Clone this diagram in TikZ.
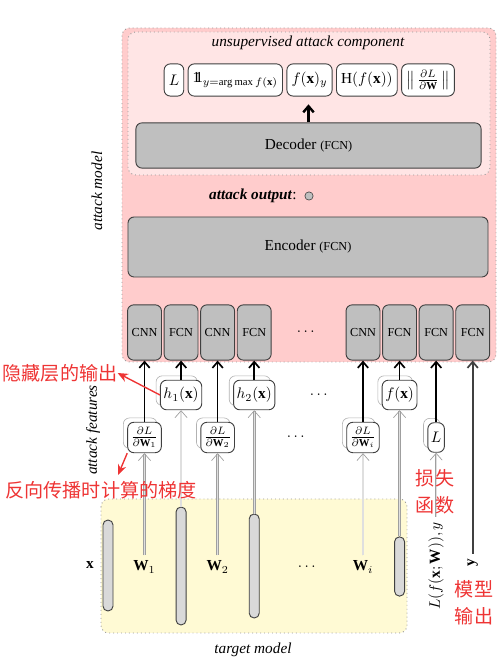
\documentclass[tikz,border=0pt]{standalone}
\usepackage{amsmath}
\usepackage{fontspec}
\setmainfont{Liberation Serif}
\newfontfamily\cjk{Noto Sans CJK SC}
\IfFileExists{dsfont.sty}{\usepackage{dsfont}\newcommand{\indic}{\mathds{1}}}{\newcommand{\indic}{\mathrm{1\!\!1}}}
\usetikzlibrary{arrows.meta,positioning,shadows}
\definecolor{amred}{RGB}{255,204,204}
\definecolor{amlight}{RGB}{255,229,229}
\definecolor{tmyellow}{RGB}{255,250,212}
\definecolor{unitgray}{RGB}{191,191,191}
\definecolor{bargray}{RGB}{217,217,217}
\definecolor{edge}{RGB}{64,64,64}
\definecolor{notered}{RGB}{238,52,52}
\tikzset{
    region/.style={
        draw=gray!80,dotted,semithick,rounded corners=5pt,fill=#1
    },
    unit/.style={
        draw=edge,semithick,rounded corners=4pt,fill=unitgray,
        align=center,inner sep=1pt
    },
    netbox/.style={
        unit,minimum width=7.8mm,minimum height=12.7mm,font=\footnotesize
    },
    term/.style={
        draw=edge,semithick,rounded corners=4pt,fill=white,
        minimum height=7.4mm,inner xsep=3pt
    },
    feat/.style={
        term,minimum height=6.8mm,inner xsep=2pt,
        copy shadow={shadow xshift=-1mm,shadow yshift=1mm,
            draw=gray!60,fill=white,thin}
    },
    layerbar/.style={
        draw=edge,semithick,fill=bargray,rounded corners=1.1mm,
        minimum width=2.3mm,minimum height=#1,inner sep=0pt
    },
    arrow/.style={
        -{Straight Barb[length=1.4mm,width=2.4mm]},line width=1.1pt,draw=black
    },
    grad/.style={
        -{Straight Barb[length=1.6mm,width=2.8mm]},draw=gray!75,
        double=gray!25,double distance=0.8pt,line width=0.45pt
    },
    note/.style={
        font=\cjk\fontsize{12.5}{17.5}\selectfont,text=notered,
        align=center,inner sep=0pt
    },
    notearrow/.style={
        -{Stealth[length=2.4mm,width=2mm]},draw=notered,line width=0.9pt
    }
}

\begin{document}
\begin{tikzpicture}[x=0.23mm,y=0.23mm]
\useasboundingbox (0,0) rectangle (503,666);

% regions
\draw[region=amred] (122,638) rectangle (496,304);
\draw[region=amlight] (128,634) rectangle (490,491);
\draw[region=tmyellow] (101,167) rectangle (407,33);

\node[font=\itshape] (ucomp) at (308,623) {unsupervised attack component};
\node[font=\itshape,rotate=90] (amodel) at (97,475) {attack model};
\node[font=\itshape,rotate=90] (afeat) at (93,236) {attack features};
\node[font=\itshape] (tmodel) at (253,16) {target model};

% unsupervised terms
\node[term] (fxy) at (309.5,586) {$f(\mathbf{x})_y$};
\node[term,left=0.8mm of fxy] (ind) {$\indic_{y=\arg\max f(\mathbf{x})}$};
\node[term,left=0.8mm of ind] (lterm) {$L$};
\node[term,right=0.8mm of fxy] (ent) {$\mathrm{H}(f(\mathbf{x}))$};
\node[term,right=0.8mm of ent] (gnorm) {$\left\|\,\frac{\partial L}{\partial\mathbf{W}}\,\right\|$};

\node[unit,minimum width=79.4mm,minimum height=10.4mm]
(dec) at (308.5,520.5) {Decoder {\footnotesize(FCN)}};
\draw[arrow,line width=1.6pt,shorten >=1.8mm] (dec.north) -- (dec.north |- fxy.south);

\node[anchor=east] (aout) at (302,470) {\textbf{\textit{attack output}}:};
\node[circle,draw=edge,fill=unitgray,inner sep=0pt,minimum size=1.9mm]
(aoutdot) at (309,470) {};

\node[unit,minimum width=82.8mm,minimum height=13.8mm]
(enc) at (308,419) {Encoder {\footnotesize(FCN)}};

% component networks
\node[netbox] (cnnA) at (144.5,333.5) {CNN};
\node[netbox,right=0.4mm of cnnA] (fcnA) {FCN};
\node[netbox,right=0.4mm of fcnA] (cnnB) {CNN};
\node[netbox,right=0.4mm of cnnB] (fcnB) {FCN};
\node (udots) at (307,333.5) {$\cdots$};
\node[netbox] (cnnC) at (363,333.5) {CNN};
\node[netbox,right=0.4mm of cnnC] (fcnC) {FCN};
\node[netbox,right=0.4mm of fcnC] (fcnD) {FCN};
\node[netbox,right=0.4mm of fcnD] (fcnE) {FCN};

% attack features
\node[feat] (hA) at (fcnA |- 0,271) {$h_1(\mathbf{x})$};
\node[feat] (hB) at (fcnB |- 0,271) {$h_2(\mathbf{x})$};
\node (hdots) at (320,271) {$\cdots$};
\node[feat] (fx) at (fcnC |- 0,271) {$f(\mathbf{x})$};
\node[feat] (gA) at (cnnA |- 0,228.5) {$\frac{\partial L}{\partial\mathbf{W}_1}$};
\node[feat] (gB) at (cnnB |- 0,228.5) {$\frac{\partial L}{\partial\mathbf{W}_2}$};
\node (gdots) at (297,229) {$\cdots$};
\node[feat] (gC) at (cnnC |- 0,228.5) {$\frac{\partial L}{\partial\mathbf{W}_i}$};
\node[feat] (loss) at (fcnD |- 0,228.5) {$L$};

% target model
\node[layerbar=20.9mm] (lx) at (108,100.5) {};
\node[layerbar=27.1mm] (lA) at (fcnA |- 0,100) {};
\node[layerbar=23.9mm] (lB) at (fcnB |- 0,100) {};
\node[layerbar=13.6mm] (lC) at (fcnC |- 0,99.5) {};
\node (xin) at (90,101) {$\mathbf{x}$};
\node (wA) at (cnnA |- 0,99) {$\mathbf{W}_1$};
\node (wB) at (cnnB |- 0,99) {$\mathbf{W}_2$};
\node (wdots) at (308,99) {$\cdots$};
\node (wC) at (cnnC |- 0,99) {$\mathbf{W}_i$};
\node[rotate=90] (lossin) at (fcnD |- 0,100) {$L(f(\mathbf{x};\mathbf{W})), y$};
\node[rotate=90] (yin) at (fcnE |- 0,103) {$\mathbf{y}$};

\draw[arrow](gA)--(cnnA);
\draw[arrow](hA)--(fcnA);
\draw[arrow](gB)--(cnnB);
\draw[arrow](hB)--(fcnB);
\draw[arrow](gC)--(cnnC);
\draw[arrow](fx)--(fcnC);
\draw[arrow](loss)--(fcnD);
\draw[arrow,draw=black!75](yin)--(fcnE);

\draw[grad](wA)--(gA);
\draw[grad](lA)--(hA);
\draw[grad](wB)--(gB);
\draw[grad](lB)--(hB);
\draw[grad](wC)--(gC);
\draw[grad](lC)--(fx);
\draw[grad](lossin)--(loss);

% notes
\node[note] (nhid) at (60,293) {隐藏层的输出};
\node[note] (ngrad) at (101,176) {反向传播时计算的梯度};
\node[note] (nloss) at (435,174) {损失\\函数};
\node[note] (nout) at (474,63) {模型\\输出};
\coordinate (gradtip) at (118,191);
\draw[notearrow](hA.west)--(nhid.east);
\draw[notearrow](gA.south west)--(gradtip);

\end{tikzpicture}
\end{document}
